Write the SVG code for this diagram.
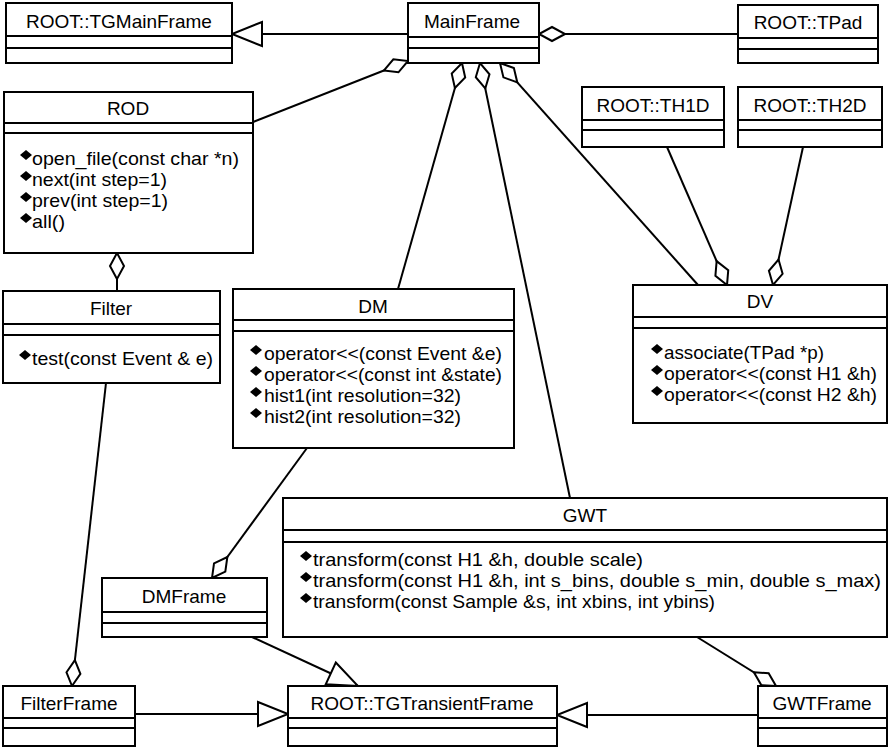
<svg xmlns="http://www.w3.org/2000/svg" xmlns:xlink="http://www.w3.org/1999/xlink" width="889" height="748" viewBox="0 0 889 748">
<style>
.box{fill:#fff;stroke:#000;stroke-width:2}
.dv{stroke:#000;stroke-width:2;fill:none}
.n{font-family:"Liberation Sans",Arial,Helvetica,sans-serif;font-size:19px;text-anchor:middle;fill:#000}
.m{font-family:"Liberation Sans",Arial,Helvetica,sans-serif;font-size:18.5px;fill:#000}
.c{fill:none;stroke:#000;stroke-width:2}
.agg{marker-end:url(#dia)}
.gen{marker-end:url(#tri)}
</style>
<defs>
<marker id="dia" viewBox="0 0 26 16" refX="26" refY="8" markerWidth="26" markerHeight="16" markerUnits="userSpaceOnUse" orient="auto" overflow="visible">
<path d="M0,8 L13,1 L26,8 L13,15 Z" fill="#fff" stroke="#000" stroke-width="2"/>
</marker>
<marker id="tri" viewBox="0 0 30 26" refX="30" refY="13" markerWidth="30" markerHeight="26" markerUnits="userSpaceOnUse" orient="auto" overflow="visible">
<path d="M0,1 L30,13 L0,25 Z" fill="#fff" stroke="#000" stroke-width="2"/>
</marker>
<path id="b" d="M-6,0 L0,-5 L6,0 L0,5 Z" fill="#000"/>
</defs>
<rect width="889" height="748" fill="#fff"/>

<g id="connectors">
<path class="c gen" d="M408,34 L232,34"/>
<path class="c agg" d="M738,34 L539,34"/>
<path class="c agg" d="M253,122 L408,61"/>
<path class="c agg" d="M398,289 L462,63"/>
<path class="c agg" d="M570,498 L480,63"/>
<path class="c agg" d="M698,285 L500,63"/>
<path class="c agg" d="M667,147 L727,285"/>
<path class="c agg" d="M803,147 L773,285"/>
<path class="c agg" d="M117,291 L117,253"/>
<path class="c agg" d="M106,383 L72,686"/>
<path class="c agg" d="M307,448 L212,578"/>
<path class="c agg" d="M697,637 L776,686"/>
<path class="c gen" d="M135,714 L288,714"/>
<path class="c gen" d="M252,637 L358,686"/>
<path class="c gen" d="M758,715 L557,715"/>
</g>

<g id="TGMainFrame">
<rect class="box" x="6" y="3" width="226" height="60"/>
<path class="dv" d="M6,36 H232 M6,48 H232"/>
<text class="n" x="119" y="28">ROOT::TGMainFrame</text>
</g>

<g id="MainFrame">
<rect class="box" x="408" y="3" width="131" height="60"/>
<path class="dv" d="M408,37 H539 M408,48 H539"/>
<text class="n" x="472" y="28">MainFrame</text>
</g>

<g id="TPad">
<rect class="box" x="738" y="5" width="140" height="58"/>
<path class="dv" d="M738,38 H878 M738,49 H878"/>
<text class="n" x="808" y="29">ROOT::TPad</text>
</g>

<g id="TH1D">
<rect class="box" x="582" y="87" width="142" height="60"/>
<path class="dv" d="M582,120 H724 M582,130 H724"/>
<text class="n" x="653" y="112">ROOT::TH1D</text>
</g>

<g id="TH2D">
<rect class="box" x="738" y="87" width="144" height="60"/>
<path class="dv" d="M738,120 H882 M738,130 H882"/>
<text class="n" x="810" y="112">ROOT::TH2D</text>
</g>

<g id="ROD">
<rect class="box" x="4" y="92" width="249" height="161"/>
<path class="dv" d="M4,123 H253 M4,133 H253"/>
<text class="n" x="128" y="115">ROD</text>
<use href="#b" x="26" y="155"/><use href="#b" x="26" y="176"/><use href="#b" x="26" y="197"/><use href="#b" x="26" y="218"/>
<text class="m" x="32" y="165" textLength="207" lengthAdjust="spacingAndGlyphs">open_file(const char *n)</text>
<text class="m" x="32" y="186" textLength="135" lengthAdjust="spacingAndGlyphs">next(int step=1)</text>
<text class="m" x="32" y="207" textLength="136" lengthAdjust="spacingAndGlyphs">prev(int step=1)</text>
<text class="m" x="32" y="228" textLength="33" lengthAdjust="spacingAndGlyphs">all()</text>
</g>

<g id="Filter">
<rect class="box" x="3" y="291" width="217" height="92"/>
<path class="dv" d="M3,324 H220 M3,335 H220"/>
<text class="n" x="111" y="315">Filter</text>
<use href="#b" x="25" y="355"/>
<text class="m" x="32" y="365" textLength="181" lengthAdjust="spacingAndGlyphs">test(const Event &amp; e)</text>
</g>

<g id="DM">
<rect class="box" x="233" y="289" width="281" height="159"/>
<path class="dv" d="M233,320 H514 M233,331 H514"/>
<text class="n" x="373" y="313">DM</text>
<use href="#b" x="256" y="350"/><use href="#b" x="256" y="371"/><use href="#b" x="256" y="392"/><use href="#b" x="256" y="413"/>
<text class="m" x="264" y="360" textLength="238" lengthAdjust="spacingAndGlyphs">operator&lt;&lt;(const Event &amp;e)</text>
<text class="m" x="264" y="381" textLength="238" lengthAdjust="spacingAndGlyphs">operator&lt;&lt;(const int &amp;state)</text>
<text class="m" x="264" y="402" textLength="197" lengthAdjust="spacingAndGlyphs">hist1(int resolution=32)</text>
<text class="m" x="264" y="423" textLength="197" lengthAdjust="spacingAndGlyphs">hist2(int resolution=32)</text>
</g>

<g id="DV">
<rect class="box" x="633" y="285" width="254" height="138"/>
<path class="dv" d="M633,317 H887 M633,328 H887"/>
<text class="n" x="760" y="308">DV</text>
<use href="#b" x="657" y="349"/><use href="#b" x="657" y="370"/><use href="#b" x="657" y="391"/>
<text class="m" x="664" y="359" textLength="160" lengthAdjust="spacingAndGlyphs">associate(TPad *p)</text>
<text class="m" x="664" y="380" textLength="213" lengthAdjust="spacingAndGlyphs">operator&lt;&lt;(const H1 &amp;h)</text>
<text class="m" x="664" y="401" textLength="213" lengthAdjust="spacingAndGlyphs">operator&lt;&lt;(const H2 &amp;h)</text>
</g>

<g id="GWT">
<rect class="box" x="283" y="498" width="604" height="139"/>
<path class="dv" d="M283,530 H887 M283,542 H887"/>
<text class="n" x="585" y="522">GWT</text>
<use href="#b" x="306" y="556"/><use href="#b" x="306" y="577"/><use href="#b" x="306" y="598"/>
<text class="m" x="313" y="566" textLength="330" lengthAdjust="spacingAndGlyphs">transform(const H1 &amp;h, double scale)</text>
<text class="m" x="313" y="587" textLength="568" lengthAdjust="spacingAndGlyphs">transform(const H1 &amp;h, int s_bins, double s_min, double s_max)</text>
<text class="m" x="313" y="608" textLength="402" lengthAdjust="spacingAndGlyphs">transform(const Sample &amp;s, int xbins, int ybins)</text>
</g>

<g id="DMFrame">
<rect class="box" x="102" y="578" width="165" height="59"/>
<path class="dv" d="M102,612 H267 M102,623 H267"/>
<text class="n" x="184" y="603">DMFrame</text>
</g>

<g id="FilterFrame">
<rect class="box" x="3" y="686" width="132" height="60"/>
<path class="dv" d="M3,718 H135 M3,728 H135"/>
<text class="n" x="69" y="710">FilterFrame</text>
</g>

<g id="TGTransientFrame">
<rect class="box" x="288" y="686" width="269" height="60"/>
<path class="dv" d="M288,718 H557 M288,728 H557"/>
<text class="n" x="422" y="710">ROOT::TGTransientFrame</text>
</g>

<g id="GWTFrame">
<rect class="box" x="758" y="686" width="129" height="60"/>
<path class="dv" d="M758,718 H887 M758,728 H887"/>
<text class="n" x="822" y="710">GWTFrame</text>
</g>
</svg>
